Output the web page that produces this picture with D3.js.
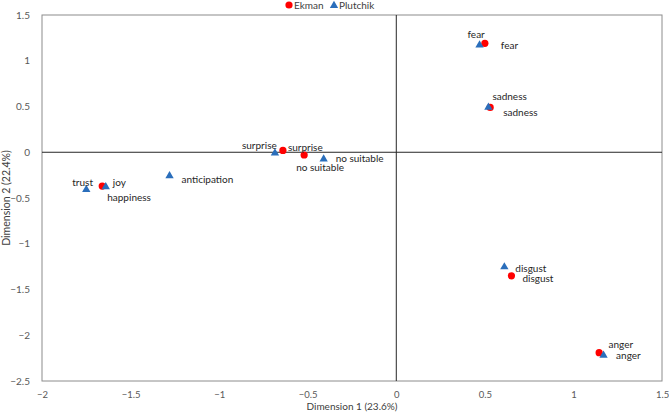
<!DOCTYPE html>
<html>
<head>
<meta charset="utf-8">
<script src="https://cdn.jsdelivr.net/npm/d3@7"></script>
<style>
  body { margin: 0; background: #fff; }
  text { font-family: Lato, "Liberation Sans", sans-serif; }
</style>
</head>
<body>
<div id="chart"></div>
<script>
// Ekman points
const ekmanNames = ['happiness', 'surprise', 'no suitable', 'fear', 'sadness', 'disgust', 'anger'];
const ekmanX = [-1.66, -0.64, -0.52, 0.50, 0.53, 0.65, 1.145];
const ekmanY = [-0.37, 0.02, -0.03, 1.19, 0.49, -1.35, -2.19];

// Plutchik points
const plutchikNames = ['trust', 'joy', 'anticipation', 'surprise', 'no suitable', 'fear', 'sadness', 'disgust', 'anger'];
const plutchikX = [-1.75, -1.64, -1.28, -0.685, -0.41, 0.47, 0.52, 0.61, 1.17];
const plutchikY = [-0.40, -0.37, -0.25, 0.0, -0.065, 1.18, 0.50, -1.245, -2.21];

const xTicks = [-2, -1.5, -1, -0.5, 0, 0.5, 1, 1.5];
const yTicks = [1.5, 1, 0.5, 0, -0.5, -1, -1.5, -2, -2.5];

// label offsets (px) from the marker, text-anchor start
const ekmanLabelPos = {
  'happiness': [5, 12],
  'surprise': [5, -2],
  'no suitable': [-8, 13],
  'fear': [16, 3],
  'sadness': [13, 6],
  'disgust': [11, 4],
  'anger': [17, 4]
};
const plutchikLabelPos = {
  'trust': [-14, -5],
  'joy': [7, -3],
  'anticipation': [12, 5],
  'surprise': [-33, -6],
  'no suitable': [12, 1],
  'fear': [-12, -9],
  'sadness': [4, -9],
  'disgust': [11, 3],
  'anger': [5, -9]
};

const W = 669, H = 419;
const margin = { top: 15, right: 7, bottom: 38, left: 42 };

const svg = d3.select('#chart').append('svg')
  .attr('width', W)
  .attr('height', H);

const x = d3.scaleLinear().domain([-2, 1.5]).range([margin.left, W - margin.right]);
const y = d3.scaleLinear().domain([-2.5, 1.5]).range([H - margin.bottom, margin.top]);

// frame
svg.append('rect')
  .attr('x', x(-2)).attr('y', y(1.5))
  .attr('width', x(1.5) - x(-2)).attr('height', y(-2.5) - y(1.5))
  .attr('fill', 'none').attr('stroke', '#8c8c8c').attr('stroke-width', 1);

// zero lines
svg.append('line')
  .attr('x1', x(-2)).attr('x2', x(1.5)).attr('y1', y(0)).attr('y2', y(0))
  .attr('stroke', '#262626').attr('stroke-width', 1);
svg.append('line')
  .attr('x1', x(0)).attr('x2', x(0)).attr('y1', y(1.5)).attr('y2', y(-2.5))
  .attr('stroke', '#262626').attr('stroke-width', 1);

// x axis labels
const xAxis = svg.append('g')
  .attr('transform', `translate(0,${y(-2.5) + 7})`)
  .call(d3.axisBottom(x).tickValues(xTicks).tickSize(0).tickFormat(d3.format('')));
xAxis.select('.domain').remove();
xAxis.selectAll('text').attr('fill', '#595959').style('font-size', '9.5px');

// y axis labels
const yAxis = svg.append('g')
  .attr('transform', `translate(${x(-2) - 9},0)`)
  .call(d3.axisLeft(y).tickValues(yTicks).tickSize(0).tickFormat(d3.format('')));
yAxis.select('.domain').remove();
yAxis.selectAll('text').attr('fill', '#595959').style('font-size', '10px');

// axis titles
svg.append('text')
  .attr('x', (x(-2) + x(1.5)) / 2)
  .attr('y', 410)
  .attr('text-anchor', 'middle')
  .attr('fill', '#404040')
  .style('font-size', '10px')
  .text('Dimension 1 (23.6%)');

svg.append('text')
  .attr('transform', `translate(10,${(y(1.5) + y(-2.5)) / 2}) rotate(-90)`)
  .attr('text-anchor', 'middle')
  .attr('fill', '#404040')
  .style('font-size', '10.5px')
  .text('Dimension 2 (22.4%)');

const red = '#ff0000';
const blue = '#2a6ebb';
const tri = d3.symbol().type(d3.symbolTriangle).size(30);

const ekman = ekmanNames.map((n, i) => ({ name: n, x: ekmanX[i], y: ekmanY[i] }));
const plutchik = plutchikNames.map((n, i) => ({ name: n, x: plutchikX[i], y: plutchikY[i] }));

// markers
svg.append('g').selectAll('circle')
  .data(ekman)
  .join('circle')
  .attr('cx', d => x(d.x))
  .attr('cy', d => y(d.y))
  .attr('r', 3.6)
  .attr('fill', red);

svg.append('g').selectAll('path')
  .data(plutchik)
  .join('path')
  .attr('d', tri)
  .attr('transform', d => `translate(${x(d.x)},${y(d.y) + 0.8})`)
  .attr('fill', blue);

// labels
function addLabels(data, pos) {
  svg.append('g').selectAll('text')
    .data(data)
    .join('text')
    .attr('x', d => x(d.x) + pos[d.name][0])
    .attr('y', d => y(d.y) + pos[d.name][1])
    .attr('dominant-baseline', 'middle')
    .attr('fill', '#262626')
    .style('font-size', '10px')
    .text(d => d.name);
}
addLabels(ekman, ekmanLabelPos);
addLabels(plutchik, plutchikLabelPos);

// legend
const legend = svg.append('g');
legend.append('circle').attr('cx', 289).attr('cy', 5).attr('r', 3.6).attr('fill', red);
legend.append('text').attr('x', 294).attr('y', 6).attr('dominant-baseline', 'middle')
  .attr('fill', '#404040').style('font-size', '10px').text('Ekman');
legend.append('path').attr('d', tri).attr('transform', 'translate(334,5.5)').attr('fill', blue);
legend.append('text').attr('x', 339).attr('y', 6).attr('dominant-baseline', 'middle')
  .attr('fill', '#404040').style('font-size', '10px').text('Plutchik');
</script>
</body>
</html>
